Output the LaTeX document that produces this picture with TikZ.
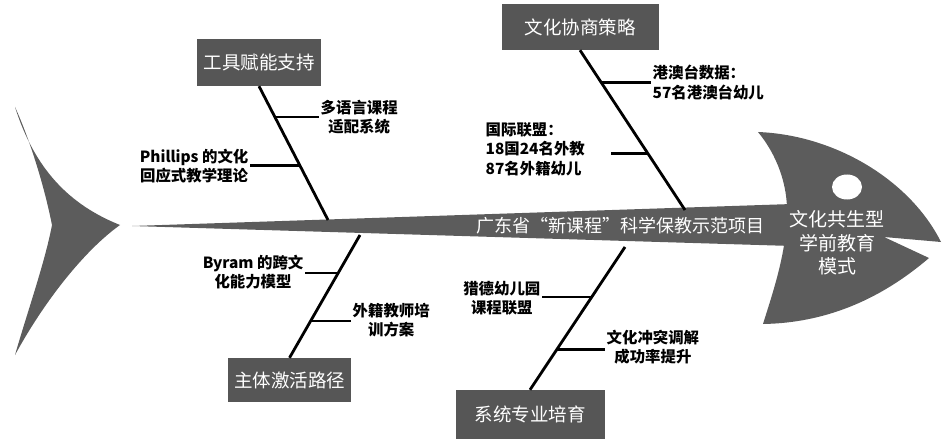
\documentclass[tikz,border=0pt]{standalone}
\usepackage{fontspec}
\setmainfont{Noto Sans CJK SC}
\definecolor{FishGray}{RGB}{92,92,92}
\definecolor{BoxGray}{RGB}{86,86,86}
\usetikzlibrary{calc}

\begin{document}
\begin{tikzpicture}[x=1pt,y=-1pt,
	catbox/.style={fill=BoxGray,text=white,inner sep=0pt,font=\fontsize{18.5}{22}\selectfont},
	bone/.style={line width=2.8pt},
	cause/.style={inner sep=1.5pt,font=\bfseries\fontsize{15.4}{19.5}\selectfont}]
\useasboundingbox (0,0) rectangle (948,441);
% fish body
\fill[FishGray] (15,107) .. controls (35,170) and (70,205) .. (120,225)
	.. controls (85,250) and (45,300) .. (15,355)
	.. controls (28,310) and (45,262) .. (52,225)
	.. controls (44,185) and (30,140) .. (15,107) -- cycle;
\fill[FishGray] (132,226) -- (792,204) -- (792,246) -- cycle;
\fill[FishGray] (758,132) .. controls (835,135) and (910,180) .. (941,242)
	-- (884,237) -- (929,258)
	.. controls (880,300) and (825,323) .. (763,324)
	.. controls (772,295) and (786,255) .. (787,215)
	.. controls (788,185) and (777,155) .. (758,132) -- cycle;
\fill[white] (847,187) ellipse (15 and 12.5);
\node[text=white,font=\fontsize{18}{22}\selectfont] (proj) at (620,226) {广东省“新课程”科学保教示范项目};
\node[text=white,align=center,font=\fontsize{19}{23.5}\selectfont] (goal) at (837,243) {文化共生型\\学前教育\\模式};
% categories
\node[catbox,minimum width=124pt,minimum height=47pt] (tool) at (259,62.5) {工具赋能支持};
\node[catbox,minimum width=157pt,minimum height=46pt] (nego) at (580,27) {文化协商策略};
\node[catbox,minimum width=123pt,minimum height=44pt] (subj) at (289.5,380) {主体激活路径};
\node[catbox,minimum width=149pt,minimum height=49pt] (prof) at (530,414.5) {系统专业培育};
\coordinate (toolEnd) at (328,220);
\coordinate (negoEnd) at (685,210);
\coordinate (subjEnd) at (360,235);
\coordinate (profEnd) at (625,247);
\draw[bone] (tool.south) -- (toolEnd);
\draw[bone] (nego.south) -- (negoEnd);
\draw[bone] (subjEnd) -- (subj.north);
\draw[bone] (profEnd) -- (prof.north);
% causes
\node[cause,align=center,anchor=west] (multi) at (319,117) {多语言课程\\适配系统};
\node[cause,align=center,anchor=east] (phil) at (250,166) {Phillips 的文化\\回应式教学理论};
\node[cause,align=left,anchor=west] (hkmo) at (651,82.5) {港澳台数据：\\57名港澳台幼儿};
\node[cause,align=left,anchor=west] (intl) at (484,149) {国际联盟：\\18国24名外教\\87名外籍幼儿};
\node[cause,align=center,anchor=east] (byram) at (305,272) {Byram 的跨文\\化能力模型};
\node[cause,align=center,anchor=west] (train) at (351,320) {外籍教师培\\训方案};
\node[cause,align=center,anchor=east] (liede) at (542,298) {猎德幼儿园\\课程联盟};
\node[cause,align=center,anchor=west] (confl) at (605,347) {文化冲突调解\\成功率提升};
\coordinate (t1) at ($(tool.south)!0.23!(toolEnd)$);
\coordinate (t2) at ($(tool.south)!0.59!(toolEnd)$);
\coordinate (n1) at ($(nego.south)!0.2!(negoEnd)$);
\coordinate (n2) at ($(nego.south)!0.644!(negoEnd)$);
\coordinate (s1) at ($(subjEnd)!0.31!(subj.north)$);
\coordinate (s2) at ($(subjEnd)!0.7!(subj.north)$);
\coordinate (p1) at ($(profEnd)!0.35!(prof.north)$);
\coordinate (p2) at ($(profEnd)!0.715!(prof.north)$);
\draw[bone] (t1) -- (t1 -| multi.west);
\draw[bone] (t2) -- (t2 -| phil.east);
\draw[bone] (n1) -- (n1 -| hkmo.west);
\draw[bone,shorten >=24pt] (n2) -- (n2 -| intl.east);
\draw[bone] (s1) -- (s1 -| byram.east);
\draw[bone] (s2) -- (s2 -| train.west);
\draw[bone] (p1) -- (p1 -| liede.east);
\draw[bone] (p2) -- (p2 -| confl.west);
\end{tikzpicture}
\end{document}
